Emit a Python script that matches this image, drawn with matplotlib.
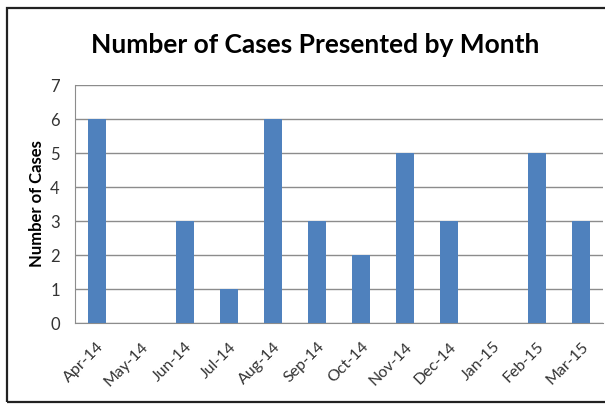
import matplotlib.pyplot as plt
from matplotlib.patches import Rectangle

months = ['Apr-14', 'May-14', 'Jun-14', 'Jul-14', 'Aug-14', 'Sep-14',
          'Oct-14', 'Nov-14', 'Dec-14', 'Jan-15', 'Feb-15', 'Mar-15']
cases = [6, 0, 3, 1, 6, 3, 2, 5, 3, 0, 5, 3]
yticks = [0, 1, 2, 3, 4, 5, 6, 7]

W, H = 605, 405
fig = plt.figure(figsize=(W / 100, H / 100), dpi=100)
fig.patch.set_facecolor('white')

# outer chart frame (right side runs off the image)
fig.patches.append(Rectangle((7 / W, 1 - 402 / H), 1.0, (402 - 8) / H,
                             transform=fig.transFigure, fill=False,
                             edgecolor='#222222', linewidth=1.6))

ax = fig.add_axes([75 / W, 1 - 323 / H, 528 / W, (323 - 85) / H])
x = range(len(months))
ax.bar(x, cases, width=0.41, color='#4F81BD', zorder=3)
ax.set_xlim(-0.5, len(months) - 0.5)
ax.set_ylim(0, 7)
ax.set_yticks(yticks)
ax.set_yticklabels([str(v) for v in yticks], fontsize=12, color='#333333',
                   family='Lato')
ax.set_xticks(list(x))
ax.set_xticklabels(months, rotation=45, ha='right', rotation_mode='anchor',
                   fontsize=11.5, color='#333333', family='Lato')
ax.tick_params(axis='y', length=0, pad=11)
ax.tick_params(axis='x', length=0, pad=12)
ax.grid(axis='y', color='#8c8c8c', linewidth=1, zorder=0)
for s in ['top', 'right']:
    ax.spines[s].set_visible(False)
ax.spines['bottom'].set_color('#8c8c8c')
ax.spines['left'].set_color('#8c8c8c')

ax.set_ylabel('Number of Cases', fontsize=12, fontweight='bold',
              family='Lato')
ax.yaxis.set_label_coords(-30 / 528, 0.5)
fig.text(315 / W, 1 - 45 / H, 'Number of Cases Presented by Month',
         ha='center', va='center', fontsize=19, fontweight='bold',
         family='Lato')

fig.savefig('out.png', dpi=100)
